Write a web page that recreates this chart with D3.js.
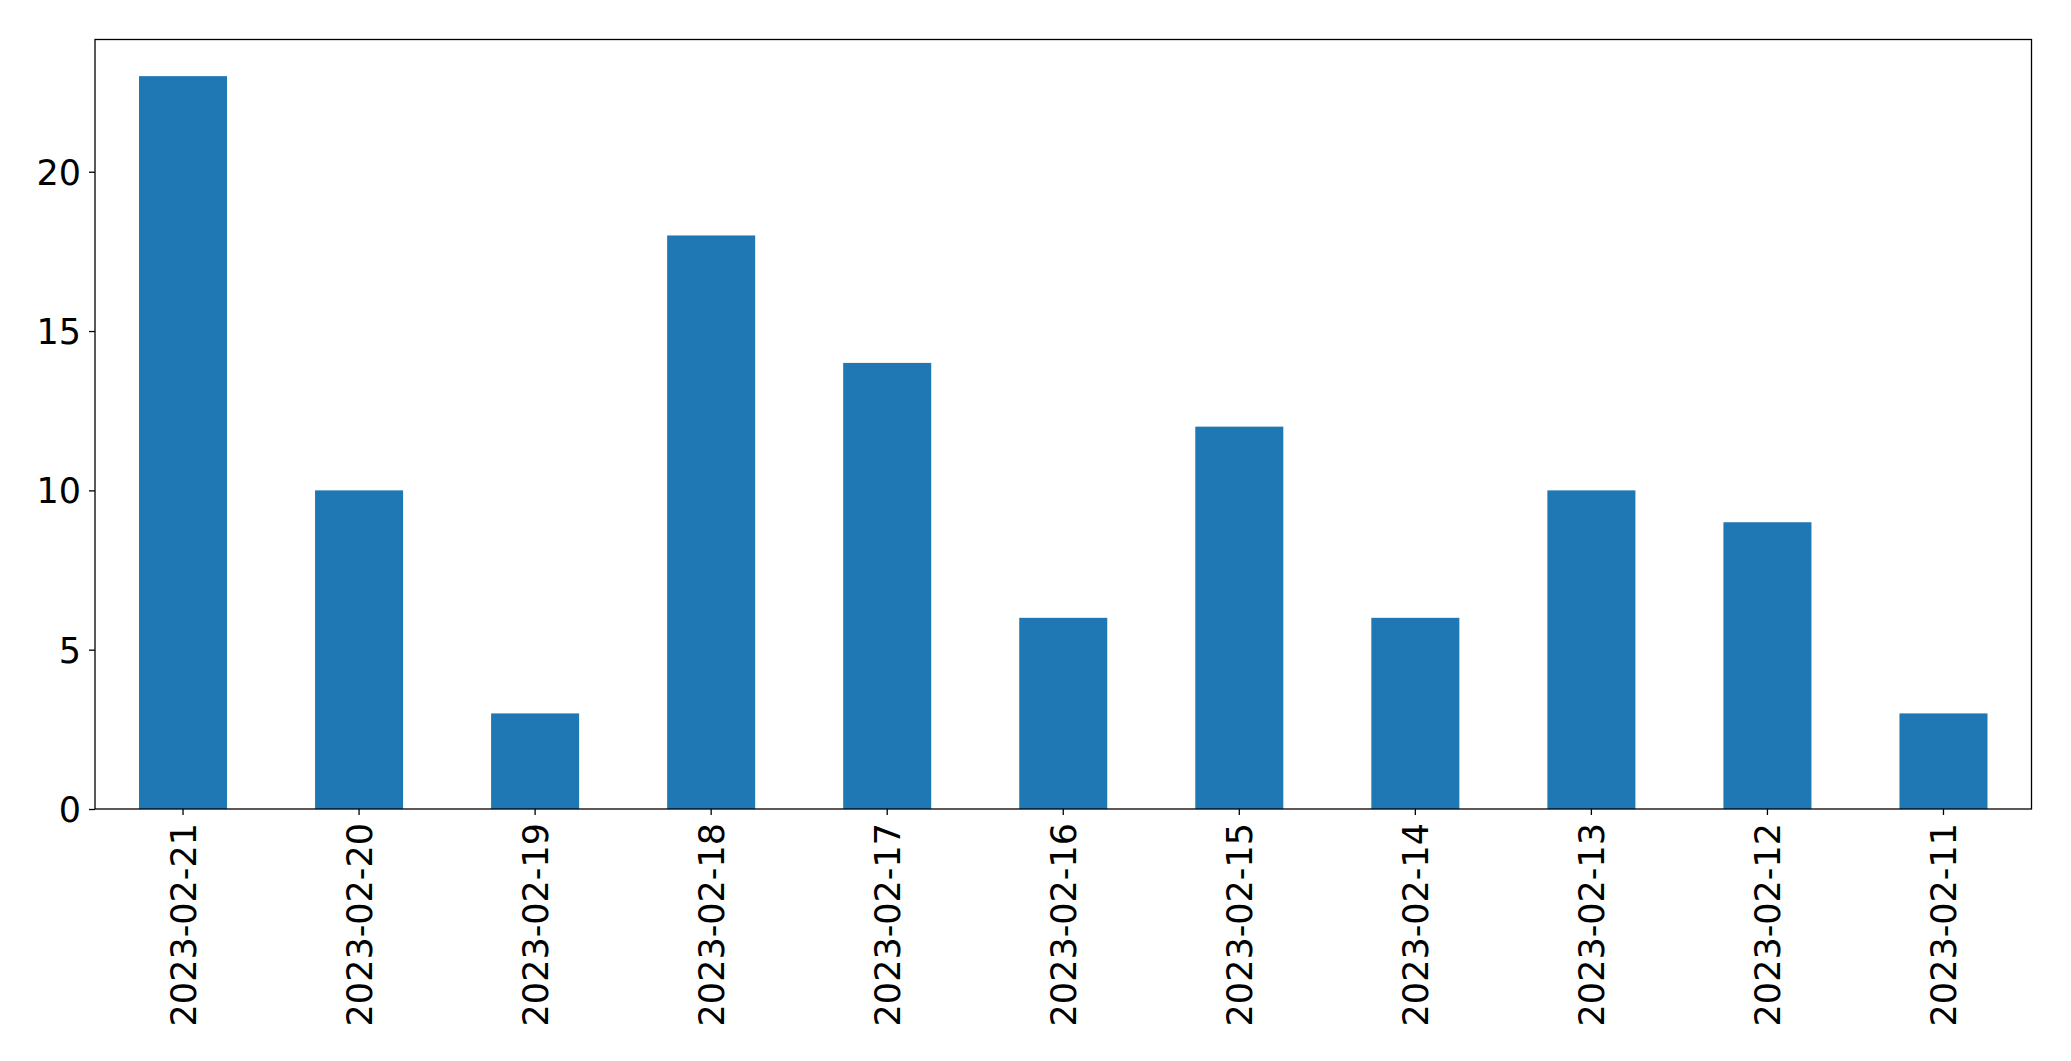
<!DOCTYPE html>
<html><head><meta charset="utf-8">
<script src="https://cdn.jsdelivr.net/npm/d3@7"></script>
<style>body{margin:0;background:#fff}svg{display:block}text{font-family:"DejaVu Sans",sans-serif}</style>
</head><body>
<svg id="c" width="2071" height="1061"></svg>
<script>
const categories = ["2023-02-21","2023-02-20","2023-02-19","2023-02-18","2023-02-17","2023-02-16","2023-02-15","2023-02-14","2023-02-13","2023-02-12","2023-02-11"];
const values = [23,10,3,18,14,6,12,6,10,9,3];
const yTicks = [0,5,10,15,20];

const svg = d3.select("#c");
const m = {l:95, t:39.5, r:2071-2031.5, b:1061-809};
const W = 2071 - m.l - m.r, H = 1061 - m.t - m.b;
const g = svg.append("g").attr("transform",`translate(${m.l},${m.t})`);
const x = d3.scaleBand().domain(categories).range([0,W]).paddingInner(0.5).paddingOuter(0.25);
const y = d3.scaleLinear().domain([0, 23*1.05]).range([H,0]);

g.selectAll("rect.bar").data(values).enter().append("rect")
  .attr("class","bar")
  .attr("x",(d,i)=>x(categories[i]))
  .attr("width",x.bandwidth())
  .attr("y",d=>y(d))
  .attr("height",d=>H-y(d))
  .attr("fill","#1f77b4");

const FS = 35;
const yAxis = g.append("g").call(d3.axisLeft(y).tickValues(yTicks).tickSize(6).tickPadding(8).tickFormat(d3.format("d")));
yAxis.select(".domain").remove();
yAxis.selectAll("text").attr("font-size",FS).attr("fill","#000").attr("dy","0.36em");
yAxis.selectAll("line").attr("stroke","#000").attr("stroke-width",1.3);

const xAxis = g.append("g").attr("transform",`translate(0,${H})`).call(d3.axisBottom(x).tickSize(6).tickPadding(0));
xAxis.select(".domain").remove();
xAxis.selectAll("line").attr("stroke","#000").attr("stroke-width",1.3);
xAxis.selectAll("text").attr("font-size",FS).attr("fill","#000")
  .attr("text-anchor","end").attr("dy",null).attr("y",0)
  .attr("transform","translate(12.5,14) rotate(-90)");

g.append("rect").attr("x",0).attr("y",0).attr("width",W).attr("height",H)
  .attr("fill","none").attr("stroke","#000").attr("stroke-width",1.3);
</script>
</body></html>
